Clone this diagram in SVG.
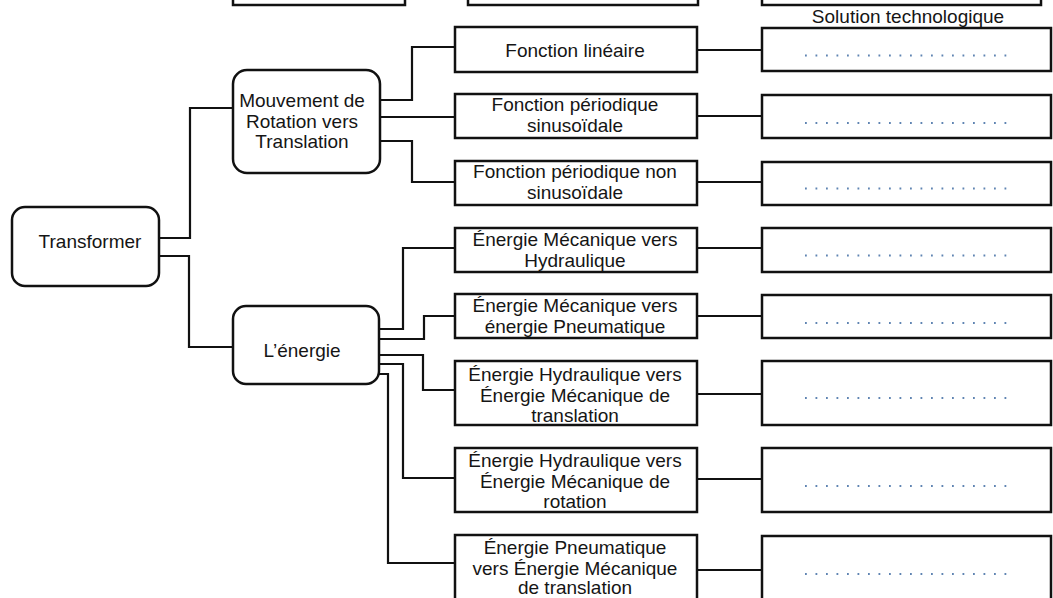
<svg xmlns="http://www.w3.org/2000/svg" width="1053" height="598" viewBox="0 0 1053 598">
<style>
.box{fill:#fff;stroke:#111;stroke-width:2.5}
.rbox{fill:#fff;stroke:#111;stroke-width:2.5}
.t{font-family:"Liberation Sans",Arial,sans-serif;font-size:19px;fill:#151515;text-anchor:middle}
.c{fill:none;stroke:#111;stroke-width:2.2}
.dots{stroke:#5f84b2;stroke-width:1.8;stroke-dasharray:1.8 8.7}
</style>
<rect width="1053" height="598" fill="#fff"/>
<g id="top-boxes">
<rect class="box" x="233" y="-40" width="172" height="45"/>
<rect class="box" x="468" y="-40" width="230" height="45"/>
<rect class="box" x="762" y="-40" width="279" height="45"/>
</g>
<text class="t" x="908" y="23">Solution technologique</text>
<g id="connectors">
<polyline class="c" points="159,238 190,238 190,108 233,108"/>
<polyline class="c" points="159,256 189,256 189,347 233,347"/>
<polyline class="c" points="380,100 412,100 412,47 455,47"/>
<polyline class="c" points="380,117 455,117"/>
<polyline class="c" points="380,141 412,141 412,182 455,182"/>
<polyline class="c" points="379,329 403,329 403,248 455,248"/>
<polyline class="c" points="379,339 424,339 424,316 455,316"/>
<polyline class="c" points="379,355 423,355 423,390 455,390"/>
<polyline class="c" points="379,364 403,364 403,478 455,478"/>
<polyline class="c" points="379,374 388,374 388,563 455,563"/>
<line class="c" x1="697" y1="50" x2="762" y2="50"/>
<line class="c" x1="697" y1="116" x2="762" y2="116"/>
<line class="c" x1="697" y1="182" x2="762" y2="182"/>
<line class="c" x1="697" y1="248" x2="762" y2="248"/>
<line class="c" x1="697" y1="316" x2="762" y2="316"/>
<line class="c" x1="697" y1="394" x2="762" y2="394"/>
<line class="c" x1="697" y1="479" x2="762" y2="479"/>
<line class="c" x1="697" y1="570" x2="762" y2="570"/>
</g>
<g id="transformer">
<rect class="box" x="12" y="207" width="147" height="79" rx="13"/>
<text class="t" x="90" y="248">Transformer</text>
</g>
<g id="mouvement">
<rect class="box" x="233" y="70" width="147" height="103" rx="14"/>
<text class="t" x="302" y="107">Mouvement de</text>
<text class="t" x="302" y="128">Rotation vers</text>
<text class="t" x="302" y="148">Translation</text>
</g>
<g id="energie">
<rect class="box" x="233" y="306" width="146" height="78" rx="13"/>
<text class="t" x="302" y="357">L’énergie</text>
</g>
<g id="f1">
<rect class="box" x="455" y="27" width="242" height="45"/>
<text class="t" x="575" y="57">Fonction linéaire</text>
</g>
<g id="f2">
<rect class="box" x="455" y="94" width="242" height="44"/>
<text class="t" x="575" y="111">Fonction périodique</text>
<text class="t" x="575" y="132">sinusoïdale</text>
</g>
<g id="f3">
<rect class="box" x="455" y="161" width="242" height="44"/>
<text class="t" x="575" y="178">Fonction périodique non</text>
<text class="t" x="575" y="199">sinusoïdale</text>
</g>
<g id="e1">
<rect class="box" x="455" y="228" width="242" height="44"/>
<text class="t" x="575" y="246">Énergie Mécanique vers</text>
<text class="t" x="575" y="267">Hydraulique</text>
</g>
<g id="e2">
<rect class="box" x="455" y="294" width="242" height="44"/>
<text class="t" x="575" y="312">Énergie Mécanique vers</text>
<text class="t" x="575" y="333">énergie Pneumatique</text>
</g>
<g id="e3">
<rect class="box" x="455" y="361" width="242" height="64"/>
<text class="t" x="575" y="381">Énergie Hydraulique vers</text>
<text class="t" x="575" y="401.5">Énergie Mécanique de</text>
<text class="t" x="575" y="422">translation</text>
</g>
<g id="e4">
<rect class="box" x="455" y="448" width="242" height="64"/>
<text class="t" x="575" y="467">Énergie Hydraulique vers</text>
<text class="t" x="575" y="488">Énergie Mécanique de</text>
<text class="t" x="575" y="508">rotation</text>
</g>
<g id="e5">
<rect class="box" x="455" y="535" width="242" height="75"/>
<text class="t" x="575" y="554">Énergie Pneumatique</text>
<text class="t" x="575" y="575">vers Énergie Mécanique</text>
<text class="t" x="575" y="594">de translation</text>
</g>
<g id="solutions">
<rect class="rbox" x="762" y="28" width="289" height="43"/>
<rect class="rbox" x="762" y="95" width="289" height="43"/>
<rect class="rbox" x="762" y="162" width="289" height="43"/>
<rect class="rbox" x="762" y="228" width="289" height="44"/>
<rect class="rbox" x="762" y="295" width="289" height="43"/>
<rect class="rbox" x="762" y="361" width="289" height="64"/>
<rect class="rbox" x="762" y="448" width="289" height="64"/>
<rect class="rbox" x="762" y="536" width="289" height="75"/>
<line class="dots" x1="805" y1="55.5" x2="1010" y2="55.5"/>
<line class="dots" x1="805" y1="123" x2="1010" y2="123"/>
<line class="dots" x1="805" y1="188.5" x2="1010" y2="188.5"/>
<line class="dots" x1="805" y1="255.5" x2="1010" y2="255.5"/>
<line class="dots" x1="805" y1="323" x2="1010" y2="323"/>
<line class="dots" x1="805" y1="398" x2="1010" y2="398"/>
<line class="dots" x1="805" y1="486" x2="1010" y2="486"/>
<line class="dots" x1="805" y1="574" x2="1010" y2="574"/>
</g>
</svg>
